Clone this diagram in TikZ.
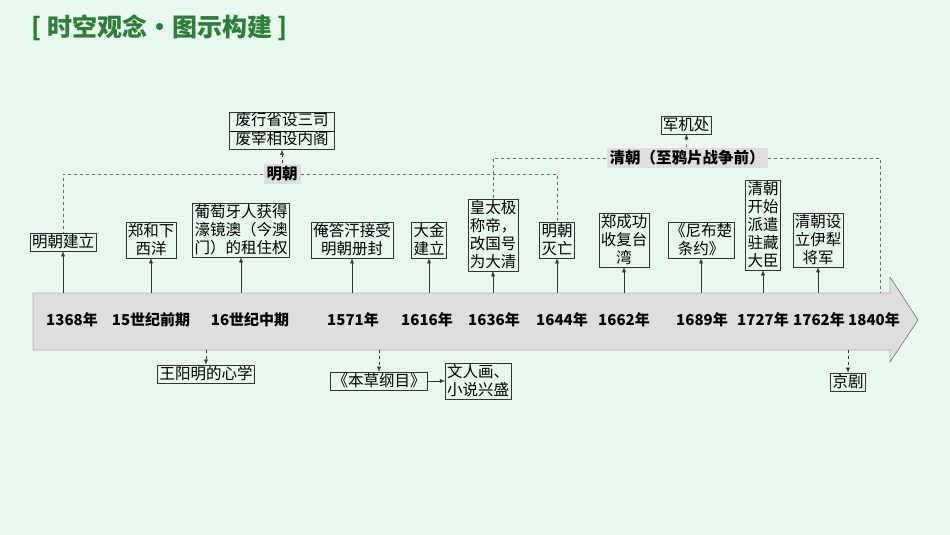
\documentclass[tikz,border=0pt]{standalone}
\usepackage{fontspec}
\setmainfont{Noto Sans CJK SC}
\usetikzlibrary{arrows.meta}
\definecolor{bgcol}{HTML}{E8F8EE}
\definecolor{titlecol}{HTML}{2E7D3A}
\definecolor{axiscol}{HTML}{DEDEDE}
\tikzset{event/.style={draw=black!80,fill=bgcol,inner sep=2pt,align=center,font=\fontsize{15.5}{18}\selectfont},
 period/.style={fill=axiscol,inner sep=3pt,font=\fontsize{15.5}{18}\selectfont\bfseries},
 year/.style={font=\fontsize{15}{18}\selectfont\bfseries},
 up/.style={-{Latex[length=5pt,width=4pt]},black!80},
 dup/.style={-{Latex[length=5pt,width=4pt]},black!80,dashed},
 link/.style={black!60,dashed}}
\begin{document}
\begin{tikzpicture}[x=1pt,y=-1pt]
    \fill[bgcol] (0,0) rectangle (950,535);
    \useasboundingbox (0,0) rectangle (950,535);
    \node[anchor=west,text=titlecol,font=\fontsize{25}{28}\selectfont\bfseries] (title) at (28,28) {[ 时空观念•图示构建 ]};

    % axis
    \draw[black!70,fill=axiscol] (33,293) -- (890,293) -- (890,277) -- (918,320) -- (890,362) -- (890,350) -- (33,350) -- cycle;
    \coordinate (top) at (0,293);
    \coordinate (bot) at (0,350);
    \node[year] (y1368) at (72,320) {1368年};
    \node[year] (y15) at (151,320) {15世纪前期};
    \node[year] (y16) at (250,320) {16世纪中期};
    \node[year] (y1571) at (353,320) {1571年};
    \node[year] (y1616) at (427,320) {1616年};
    \node[year] (y1636) at (494,320) {1636年};
    \node[year] (y1644) at (562,320) {1644年};
    \node[year] (y1662) at (624,320) {1662年};
    \node[year] (y1689) at (702,320) {1689年};
    \node[year] (y1727) at (763,320) {1727年};
    \node[year] (y1762) at (819,320) {1762年};
    \node[year] (y1840) at (874,320) {1840年};

    % events above
    \node[event] (mingjl) at (63,242) {明朝建立};
    \node[event] (zhenghe) at (151,240) {郑和下\\西洋};
    \node[event] (putao) at (241,230) {葡萄牙人获得\\濠镜澳（今澳\\门）的租住权};
    \node[event] (anda) at (352,240) {俺答汗接受\\明朝册封};
    \node[event] (dajin) at (429,240) {大金\\建立};
    \node[event] (huang) at (493,235) {皇太极\\称帝，\\改国号\\为大清};
    \node[event] (mingmw) at (557,240) {明朝\\灭亡};
    \node[event] (zcg) at (624,240) {郑成功\\收复台\\湾};
    \node[event] (nbc) at (701,240) {《尼布楚\\条约》};
    \node[event] (zhuzang) at (763,225) {清朝\\开始\\派遣\\驻藏\\大臣};
    \node[event] (yili) at (818,240) {清朝设\\立伊犁\\将军};
    \foreach \n in {mingjl,zhenghe,putao,anda,dajin,huang,mingmw,zcg,nbc,zhuzang,yili}
        \draw[up] (top -| \n.south) -- (\n.south);

    % dynasties
    \node[event,inner sep=0pt] (neige) at (282,131) {\begin{tabular}{c}废行省设三司\\\hline 废宰相设内阁\end{tabular}};
    \node[period] (ming) at (282,174) {明朝};
    \draw[dup] (ming) -- (neige);
    \draw[link] (ming.west) -- (63,174) -- (mingjl.north);
    \draw[link] (ming.east) -- (557,174) -- (mingmw.north);
    \node[event] (junji) at (686,125) {军机处};
    \node[period] (qing) at (687,158) {清朝（至鸦片战争前）};
    \draw[dup] (qing) -- (junji);
    \draw[link] (qing.west) -- (493,158) -- (huang.north);
    \draw[link] (qing.east) -- (880,158) -- (880,293);

    % events below
    \node[event] (wang) at (206,374) {王阳明的心学};
    \node[event] (bencao) at (379,381) {《本草纲目》};
    \node[event] (wenren) at (478,381) {文人画、\\小说兴盛};
    \node[event] (jingju) at (848,382) {京剧};
    \draw[dup] (bot -| wang.north) -- (wang.north);
    \draw[dup] (bot -| bencao.north) -- (bencao.north);
    \draw[up] (bencao) -- (wenren);
    \draw[dup] (bot -| jingju.north) -- (jingju.north);
\end{tikzpicture}
\end{document}
